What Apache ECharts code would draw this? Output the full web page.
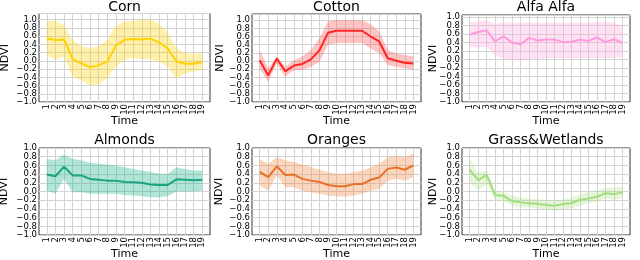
<!DOCTYPE html>
<html><head><meta charset="utf-8">
<script src="https://cdn.jsdelivr.net/npm/echarts@6/dist/echarts.min.js"></script>
<style>html,body{margin:0;padding:0;background:#fff}#c{width:640px;height:260px}</style>
</head><body><div id="c"></div>
<script>
const times = [1,2,3,4,5,6,7,8,9,10,11,12,13,14,15,16,17,18,19];
const timeLabelsA = [1,3,5,7,9,11,13,15,17,19];
const timeLabelsB = [2,4,6,8,10,12,14,16,18];
const yTicksA = [-1.0,-0.6,-0.2,0.2,0.6,1.0];
const yTicksB = [-0.8,-0.4,0.0,0.4,0.8];
const titles = ['Corn','Cotton','Alfa Alfa','Almonds','Oranges','Grass&Wetlands'];

const cornMean  = [0.55,0.50,0.52,0.04,-0.06,-0.15,-0.11,-0.02,0.37,0.51,0.53,0.52,0.54,0.45,0.30,-0.01,-0.07,-0.07,-0.03];
const cornUpper = [0.97,0.97,0.87,0.50,0.36,0.31,0.35,0.52,0.85,0.95,0.97,1.00,1.00,0.90,0.69,0.31,0.19,0.17,0.19];
const cornLower = [0.15,0.02,0.10,-0.39,-0.47,-0.60,-0.57,-0.43,-0.14,0.02,0.07,0.04,0.04,-0.02,-0.14,-0.43,-0.31,-0.26,-0.22];

const cottonMean  = [0.02,-0.35,0.06,-0.25,-0.11,-0.07,0.04,0.26,0.69,0.74,0.74,0.74,0.74,0.60,0.48,0.07,0.01,-0.04,-0.06];
const cottonUpper = [0.27,-0.18,0.11,-0.14,0.02,0.11,0.27,0.56,0.97,1.00,1.00,1.00,1.00,0.90,0.73,0.27,0.19,0.15,0.12];
const cottonLower = [-0.18,-0.51,-0.06,-0.39,-0.22,-0.22,-0.14,-0.02,0.40,0.44,0.44,0.44,0.44,0.31,0.19,-0.10,-0.14,-0.18,-0.21];

const alfaMean  = [0.59,0.65,0.69,0.43,0.55,0.40,0.36,0.51,0.45,0.47,0.47,0.41,0.42,0.47,0.44,0.52,0.41,0.48,0.39];
const alfaUpper = [0.88,0.90,0.92,0.84,0.88,0.86,0.86,0.88,0.86,0.86,0.87,0.86,0.86,0.87,0.87,0.88,0.90,0.86,0.80];
const alfaLower = [0.30,0.28,0.30,0.10,0.02,0.00,-0.02,0.02,0.02,0.03,0.04,0.03,0.03,0.04,0.03,0.04,0.03,0.04,0.05];

const almondsMean  = [0.39,0.35,0.57,0.37,0.37,0.29,0.27,0.25,0.25,0.22,0.21,0.20,0.16,0.15,0.15,0.28,0.27,0.26,0.27];
const almondsUpper = [0.75,0.72,0.85,0.75,0.72,0.66,0.64,0.62,0.60,0.56,0.52,0.48,0.45,0.41,0.41,0.56,0.52,0.48,0.48];
const almondsLower = [0.02,-0.05,0.29,-0.02,-0.02,-0.05,-0.05,-0.05,-0.05,-0.08,-0.09,-0.11,-0.13,-0.13,-0.11,0.00,0.00,0.00,0.02];

const orangesMean  = [0.45,0.33,0.58,0.38,0.39,0.29,0.25,0.22,0.15,0.12,0.12,0.17,0.17,0.27,0.32,0.52,0.55,0.50,0.60];
const orangesUpper = [0.75,0.64,0.79,0.72,0.68,0.62,0.56,0.50,0.45,0.41,0.41,0.45,0.48,0.56,0.64,0.79,0.83,0.79,0.87];
const orangesLower = [0.14,0.02,0.37,0.10,0.10,0.02,-0.02,-0.05,-0.09,-0.11,-0.12,-0.09,-0.05,0.02,0.06,0.25,0.29,0.25,0.33];

const grassMean  = [0.50,0.26,0.38,-0.08,-0.10,-0.22,-0.25,-0.27,-0.28,-0.31,-0.33,-0.29,-0.27,-0.19,-0.16,-0.12,-0.04,-0.06,-0.02];
const grassUpper = [0.75,0.44,0.48,0.02,-0.02,-0.10,-0.14,-0.16,-0.18,-0.19,-0.22,-0.18,-0.14,-0.06,-0.02,0.02,0.09,0.09,0.12];
const grassLower = [0.21,0.02,0.17,-0.19,-0.22,-0.33,-0.37,-0.37,-0.39,-0.42,-0.45,-0.41,-0.39,-0.32,-0.27,-0.24,-0.16,-0.19,-0.16];

const means  = [cornMean, cottonMean, alfaMean, almondsMean, orangesMean, grassMean];
const uppers = [cornUpper, cottonUpper, alfaUpper, almondsUpper, orangesUpper, grassUpper];
const lowers = [cornLower, cottonLower, alfaLower, almondsLower, orangesLower, grassLower];
const lineColors = ['#ffd200','#ff2424','#ff99dd','#1ba383','#e8702a','#a2de7c'];
const fillColors = ['#ffd200','#ff3a3a','#ffa8e0','#1fb58f','#f08a44','#a8e084'];
const fillOpacity = [0.32,0.3,0.35,0.35,0.35,0.3];

const grids = [
  {left:39,  top:13.5, width:171, height:88.5},
  {left:252, top:14,   width:169, height:88},
  {left:462, top:15,   width:168, height:87},
  {left:39,  top:148,  width:171, height:87},
  {left:252, top:148,  width:169, height:87},
  {left:462, top:148,  width:168, height:87}
];
const yMax = [1.15,1.15,1.05,1.0,1.0,1.0];
const nameGaps = [28,26,23,29,27,23];

const fmt = v => v.toFixed(1).replace('-','\u2212');
const font = 'DejaVu Sans';
const gridColor = '#d3d3d3';

const xAxes = [], yAxes = [];
grids.forEach((g,i) => {
  const xBase = {type:'value', gridIndex:i, min:0.1, max:19.9, position:'bottom', offset:0, axisLine:{show:false}};
  xAxes.push(Object.assign({}, xBase, {
    name:'Time', nameLocation:'middle', nameGap:14,
    nameTextStyle:{fontFamily:font, fontSize:11, color:'#000'},
    axisTick:{show:false, customValues:times},
    axisLabel:{show:false, customValues:times},
    splitLine:{show:true, lineStyle:{color:gridColor, width:1}}
  }));
  [timeLabelsA, timeLabelsB].forEach(vals => xAxes.push(Object.assign({}, xBase, {
    axisTick:{show:false, customValues:vals},
    axisLabel:{customValues:vals, rotate:90, margin:2, fontFamily:font, fontSize:8.5, color:'#000',
               showMinLabel:true, showMaxLabel:true},
    splitLine:{show:false}
  })));
  const yBase = {type:'value', gridIndex:i, min:-1, max:yMax[i], position:'left', offset:0, axisLine:{show:false}, axisTick:{show:false}};
  yAxes.push(Object.assign({}, yBase, {
    interval:0.2,
    name:'NDVI', nameLocation:'middle', nameGap:nameGaps[i],
    nameTextStyle:{fontFamily:font, fontSize:11, color:'#000'},
    axisLabel:{show:false},
    splitLine:{show:true, lineStyle:{color:gridColor, width:1}}
  }));
  [yTicksA, yTicksB].forEach(vals => yAxes.push(Object.assign({}, yBase, {
    axisTick:{show:false, customValues:vals},
    axisLabel:{customValues:vals, margin:2, fontFamily:font, fontSize:8.5, color:'#000', formatter:fmt,
               showMinLabel:true, showMaxLabel:true},
    splitLine:{show:false}
  })));
});

const option = {
  animation:false,
  backgroundColor:'#fff',
  grid: grids.map(g => Object.assign({show:true, borderColor:'#333', borderWidth:1, backgroundColor:'transparent', containLabel:false, outerBoundsMode:'none'}, g)),
  xAxis: xAxes,
  yAxis: yAxes,
  series: [],
  graphic: titles.map((t,i) => ({
    type:'text',
    x: grids[i].left + grids[i].width/2, y: i<3 ? 7.5 : 140,
    style:{text:t, fontFamily:font, fontSize:14, fill:'#000', textAlign:'center', textVerticalAlign:'middle'}
  }))
};

for (let i=0;i<6;i++) {
  const up = uppers[i], lo = lowers[i];
  option.series.push({
    type:'custom', xAxisIndex:3*i, yAxisIndex:3*i, silent:true, z:1,
    data: times.map((t,k)=>[t, lo[k], up[k]]),
    encode:{x:0, y:[1,2]},
    renderItem: (params, api) => {
      if (params.dataIndex !== 0) return null;
      const top = times.map((t,k)=>api.coord([t, up[k]]));
      const bot = times.map((t,k)=>api.coord([t, lo[k]])).reverse();
      return {type:'polygon', shape:{points:top.concat(bot)}, style:{fill:fillColors[i], opacity:fillOpacity[i]}};
    }
  });
  option.series.push({
    type:'line', xAxisIndex:3*i, yAxisIndex:3*i, data:times.map((t,k)=>[t, means[i][k]]),
    symbol:'none', lineStyle:{color:lineColors[i], width:2}, z:3
  });
}

const chart = echarts.init(document.getElementById('c'), null, {renderer:'canvas'});
chart.setOption(option);
</script>
</body></html>
